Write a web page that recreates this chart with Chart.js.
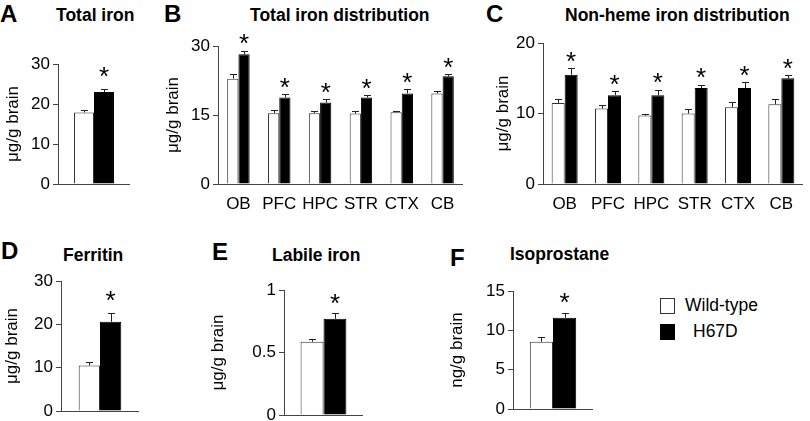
<!DOCTYPE html>
<html>
<head>
<meta charset="utf-8">
<script src="https://cdn.jsdelivr.net/npm/chart.js@4/dist/chart.umd.min.js"></script>
<style>
  body { margin: 0; background: #fff; width: 810px; height: 421px; position: relative; overflow: hidden;
         font-family: Arial, "Liberation Sans", sans-serif; color: #000; }
  canvas { position: absolute; }
  .letter { position: absolute; font-weight: bold; font-size: 24px; line-height: 24px; }
  .title { position: absolute; font-weight: bold; font-size: 17.5px; line-height: 20px; transform: translateY(-50%); white-space: nowrap; }
  .leg { position: absolute; font-size: 17.5px; line-height: 20px; transform: translateY(-50%); white-space: nowrap; }
  .sw { position: absolute; width: 13px; height: 14px; border: 1px solid #333; }
</style>
</head>
<body>

<div class="letter" style="left:0px;top:2px">A</div>
<div class="letter" style="left:164px;top:2px">B</div>
<div class="letter" style="left:486px;top:2px">C</div>
<div class="letter" style="left:1px;top:239px">D</div>
<div class="letter" style="left:212px;top:240px">E</div>
<div class="letter" style="left:450px;top:246px">F</div>

<div class="title" style="left:56px;top:15px">Total iron</div>
<div class="title" style="left:250px;top:15px">Total iron distribution</div>
<div class="title" style="left:565px;top:15px">Non-heme iron distribution</div>
<div class="title" style="left:63px;top:255px">Ferritin</div>
<div class="title" style="left:272px;top:255px">Labile iron</div>
<div class="title" style="left:510px;top:254px">Isoprostane</div>

<canvas id="chartA" width="127" height="148" style="left:3px;top:50px"></canvas>
<canvas id="chartB" width="300" height="188" style="left:163px;top:32px"></canvas>
<canvas id="chartC" width="310" height="191" style="left:493px;top:29px"></canvas>
<canvas id="chartD" width="137" height="158" style="left:2px;top:267px"></canvas>
<canvas id="chartE" width="155" height="153" style="left:208px;top:276px"></canvas>
<canvas id="chartF" width="146" height="146" style="left:447px;top:277px"></canvas>

<div class="sw" style="left:660px;top:298px;background:#fff"></div>
<div class="leg" style="left:685px;top:305px">Wild-type</div>
<div class="sw" style="left:660px;top:324px;background:#000;border-color:#000"></div>
<div class="leg" style="left:693px;top:331px">H67D</div>

<script>
// Series names
const seriesNames = ['Wild-type', 'H67D'];

// A - total iron (μg/g brain)
const totalWT = [17.9];
const totalWTErr = [0.6];
const totalH67D = [23.0];
const totalH67DErr = [0.7];

// B - total iron distribution by region
const regions = ['OB', 'PFC', 'HPC', 'STR', 'CTX', 'CB'];
const distWT = [22.9, 15.4, 15.4, 15.3, 15.6, 19.7];
const distWTErr = [1.1, 0.6, 0.5, 0.5, 0.3, 0.6];
const distH67D = [28.2, 18.8, 17.7, 18.8, 19.7, 23.4];
const distH67DErr = [0.8, 0.7, 0.7, 0.5, 0.9, 0.5];

// C - non-heme iron distribution
const nhWT = [11.5, 10.7, 9.7, 10.0, 10.9, 11.3];
const nhWTErr = [0.6, 0.55, 0.2, 0.6, 0.7, 0.7];
const nhH67D = [15.5, 12.6, 12.6, 13.6, 13.6, 15.0];
const nhH67DErr = [1.0, 0.6, 0.8, 0.5, 0.9, 0.4];

// D - ferritin
const ferWT = [10.5];
const ferWTErr = [0.8];
const ferH67D = [20.6];
const ferH67DErr = [2.1];

// E - labile iron
const labWT = [0.586];
const labWTErr = [0.025];
const labH67D = [0.77];
const labH67DErr = [0.045];

// F - isoprostane (ng/g brain)
const isoWT = [8.55];
const isoWTErr = [0.55];
const isoH67D = [11.6];
const isoH67DErr = [0.55];

// y axis ticks per panel
const ticksA = { max: 30, step: 10 };
const ticksB = { max: 30, step: 15 };
const ticksC = { max: 20, step: 10 };
const ticksD = { max: 30, step: 10 };
const ticksE = { max: 1, step: 0.5 };
const ticksF = { max: 15, step: 5 };

const FONT = 'Arial, "Liberation Sans", sans-serif';
const AXIS = '#444';

// draws the upward error bars and the significance stars
const errorBarPlugin = {
  id: 'errorBars',
  afterDatasetsDraw(chart, args, opts) {
    const ctx = chart.ctx;
    const yScale = chart.scales.y;
    ctx.save();
    chart.data.datasets.forEach((ds, i) => {
      const meta = chart.getDatasetMeta(i);
      meta.data.forEach((bar, j) => {
        const top = yScale.getPixelForValue(ds.data[j] + ds.errors[j]);
        ctx.strokeStyle = '#222';
        ctx.lineWidth = 1;
        ctx.beginPath();
        ctx.moveTo(Math.round(bar.x) + 0.5, bar.y);
        ctx.lineTo(Math.round(bar.x) + 0.5, Math.round(top) + 0.5);
        ctx.moveTo(Math.round(bar.x) - 3, Math.round(top) + 0.5);
        ctx.lineTo(Math.round(bar.x) + 4, Math.round(top) + 0.5);
        ctx.stroke();
        if (ds.stars) {
          const size = opts.starSize || 26;
          ctx.fillStyle = '#000';
          ctx.font = size + 'px ' + FONT;
          ctx.textAlign = 'center';
          ctx.textBaseline = 'middle';
          ctx.fillText('*', bar.x, top - opts.gap + size * 0.22);
        }
      });
    });
    ctx.restore();
  }
};

function makePanel(id, labels, wt, wtErr, mut, mutErr, ticks, yTitle, o) {
  const ctx = document.getElementById(id).getContext('2d');
  return new Chart(ctx, {
    type: 'bar',
    data: {
      labels: labels,
      datasets: [
        { label: seriesNames[0], data: wt, errors: wtErr, stars: false,
          backgroundColor: '#fff', borderColor: '#333', borderWidth: 1 },
        { label: seriesNames[1], data: mut, errors: mutErr, stars: true,
          backgroundColor: '#000', borderColor: '#000', borderWidth: 1 }
      ]
    },
    options: {
      responsive: false,
      animation: false,
      devicePixelRatio: 1,
      layout: { padding: { top: o.padTop, right: 0, bottom: 0, left: 0 } },
      datasets: { bar: { barPercentage: 1, categoryPercentage: o.cat } },
      plugins: {
        legend: { display: false },
        tooltip: { enabled: false },
        errorBars: { gap: o.gap, starSize: 26 }
      },
      scales: {
        x: {
          offset: true,
          grid: { display: false },
          border: { display: true, color: AXIS, width: 1 },
          ticks: { display: o.xLabels, color: '#000', padding: 2, maxRotation: 0, minRotation: 0, autoSkip: false,
                   font: { family: FONT, size: 17 } },
          afterFit: s => { s.height = o.xHeight; }
        },
        y: {
          min: 0,
          max: ticks.max,
          grid: { drawOnChartArea: false, drawTicks: true, tickLength: 5, color: AXIS },
          border: { display: true, color: AXIS, width: 1 },
          ticks: { stepSize: ticks.step, color: '#000', padding: 3, font: { family: FONT, size: 17 },
                   callback: v => String(v) },
          title: { display: true, text: yTitle, color: '#000', padding: { top: 0, bottom: 0 },
                   font: { family: FONT, size: 17, lineHeight: 1.2 } },
          afterFit: s => { s.width = o.yWidth; }
        }
      }
    },
    plugins: [errorBarPlugin]
  });
}

makePanel('chartA', [''], totalWT, totalWTErr, totalH67D, totalH67DErr, ticksA, 'μg/g brain',
  { padTop: 14, cat: 0.555, gap: 17, xLabels: false, xHeight: 14, yWidth: 55 });
makePanel('chartB', regions, distWT, distWTErr, distH67D, distH67DErr, ticksB, 'μg/g brain',
  { padTop: 14, cat: 0.55, gap: 11, xLabels: true, xHeight: 36, yWidth: 55 });
makePanel('chartC', regions, nhWT, nhWTErr, nhH67D, nhH67DErr, ticksC, 'μg/g brain',
  { padTop: 14, cat: 0.6, gap: 11, xLabels: true, xHeight: 36, yWidth: 50 });
makePanel('chartD', [''], ferWT, ferWTErr, ferH67D, ferH67DErr, ticksD, 'μg/g brain',
  { padTop: 14, cat: 0.546, gap: 17, xLabels: false, xHeight: 14, yWidth: 59 });
makePanel('chartE', [''], labWT, labWTErr, labH67D, labH67DErr, ticksE, 'μg/g brain',
  { padTop: 14, cat: 0.58, gap: 14, xLabels: false, xHeight: 14, yWidth: 76 });
makePanel('chartF', [''], isoWT, isoWTErr, isoH67D, isoH67DErr, ticksF, 'ng/g brain',
  { padTop: 14, cat: 0.58, gap: 15, xLabels: false, xHeight: 14, yWidth: 66 });
</script>
</body>
</html>
